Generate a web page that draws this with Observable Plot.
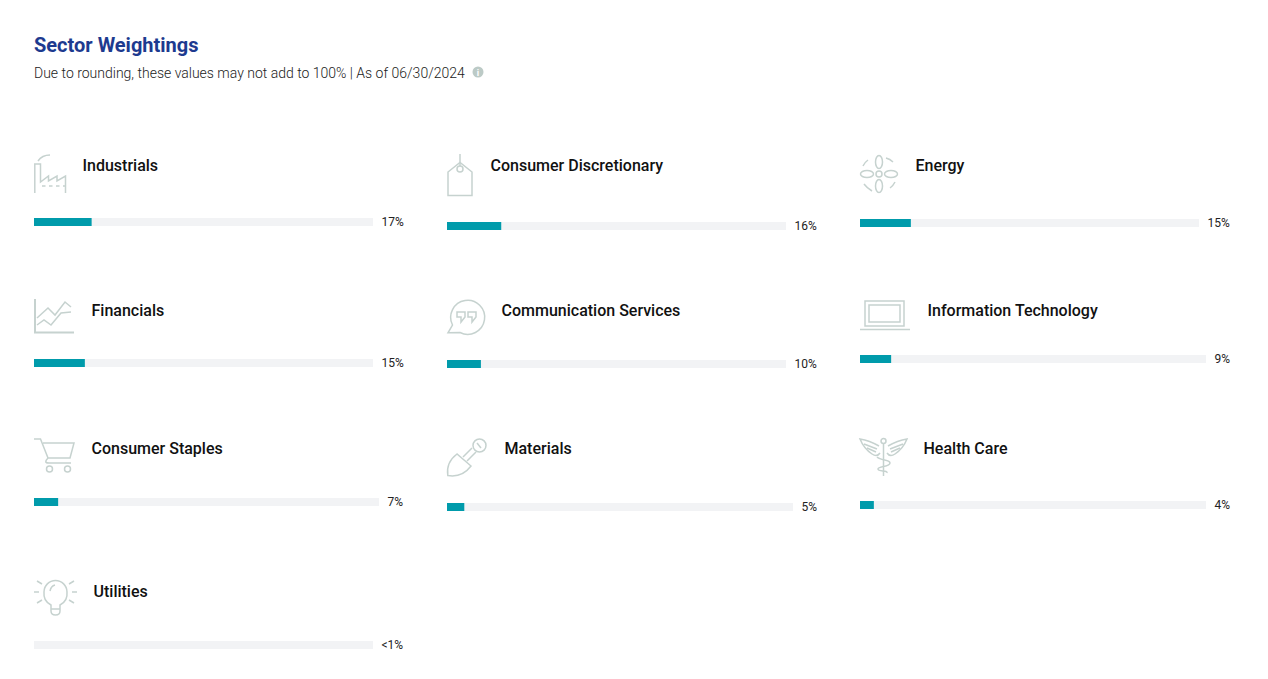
<!DOCTYPE html>
<html><head><meta charset="utf-8">
<script src="https://cdn.jsdelivr.net/npm/d3@7"></script>
<script src="https://cdn.jsdelivr.net/npm/@observablehq/plot@0.6"></script>
<style>
html,body{margin:0;background:#fff;font-family:Roboto,sans-serif}
#page{position:relative;width:1268px;height:679px;overflow:hidden}
h1{position:absolute;left:34px;top:33px;margin:0;font:700 20px/24px Roboto;color:#1d3a8f}
#sub{position:absolute;left:34px;top:64px;font:300 14px/18px Roboto;color:#222;white-space:nowrap}
#info{position:absolute;left:472px;top:66px}
.card{position:absolute}
.card svg{display:block;overflow:visible;max-width:none}
</style></head><body>
<div id="page">
<h1>Sector Weightings</h1>
<div id="sub">Due to rounding, these values may not add to 100% | As of 06/30/2024</div>
<svg id="info" width="12" height="12"><circle cx="6" cy="6" r="5.5" fill="#bccac6"/><text x="6" y="9.5" text-anchor="middle" font-family="Roboto" font-weight="700" font-size="9" fill="#fff">i</text></svg>
</div>
<script>
// Data
const sectors = ["Industrials","Consumer Discretionary","Energy","Financials","Communication Services","Information Technology","Consumer Staples","Materials","Health Care","Utilities"];
const weights = [17,16,15,15,10,9,7,5,4,0];
const labels = ["17%","16%","15%","15%","10%","9%","7%","5%","4%","<1%"];

// Layout (page pixels): one small chart per sector
const cardLeft   = [34,447,860,34,447,860,34,447,860,34];
const cardTop    = [154,154,155,299,299,300,438,438,438,580];
const trackTop   = [218,222,219,359,360,355,498,503,501,641];
const trackWidth = [339,339,339,339,339,346,345,346,346,339];
const nameLeft   = [82,490,915,91,501,927,91,504,923,93];
const nameMiddle = [165,165,165,310,310,310,448,448,448,591];
const trackHeight = 8;
const iconStroke = "#c6d2cf";

const icons = [
 // factory
 `<path d="M.8 39V10H6.5V28L14.5 22V27L23 22V27L31.5 22V39"/><path d="M8 32H31" stroke-dasharray="3.5 3.5"/><path d="M4 7Q8 1 16 1"/>`,
 // tag
 `<path d="M1 41.5V18L13 8.5 25 18V41.5Z"/><circle cx="13" cy="15" r="3"/><path d="M13 0V12"/>`,
 // fan
 `<circle cx="19" cy="19" r="3"/><ellipse cx="19" cy="7" rx="3.5" ry="6.5"/><ellipse cx="19" cy="31" rx="3.5" ry="6.5"/><ellipse cx="7" cy="19" rx="6.5" ry="3.5"/><ellipse cx="31" cy="19" rx="6.5" ry="3.5"/><path d="M3 11Q5 7 8 5M26 3Q30 4 33 7M35 27Q33 31 30 33M4 29Q7 33 12 36"/>`,
 // line chart
 `<path d="M1 0V33.5H40" stroke-width="2"/><path d="M3 19 14 9 21 16 31 3 37 8"/><path d="M3 26 10 21 17 26 27 14 37 13"/>`,
 // speech bubble
 `<path d="M13 33.5A17 17 0 1 0 5.5 26L1 33.8Z"/><path d="M10 13H18V18L14 23V18H10ZM21 13H29V18L25 23V18H21Z"/>`,
 // laptop
 `<rect x="5" y="1" width="39" height="25"/><rect x="9" y="5" width="31" height="17"/><path d="M0 29.5H50"/>`,
 // cart
 `<path d="M0 1H6.5L14 20H36L40 5H9"/><path d="M14 20Q9 25 15 25H37"/><circle cx="15.5" cy="31" r="3"/><circle cx="33.5" cy="31" r="3"/>`,
 // shovel
 `<path d="M.8 37.5C-.5 29 2 22 10 16L24 28C18 36 10 39 .8 37.5Z"/><path d="M16 19 25 10M20 23 29 14"/><circle cx="32.5" cy="7.5" r="6.5"/><path d="M30 5 34 10"/>`,
 // caduceus
 `<path d="M23.5 5V38"/><circle cx="23.5" cy="3" r="2.5"/><path d="M19 8C12 4 6 2 0 1 2 6 6 12 12 16 15 18 18 18 20 15"/><path d="M28 8C35 4 41 2 47 1 45 6 41 12 35 16 32 18 29 18 27 15"/><path d="M4 6 17 11M7 10 16 14M43 6 30 11M40 10 31 14"/><path d="M17 19C21 23 30 21 30 25S18 28 18 31 28 32 27 35"/>`,
 // light bulb
 `<path d="M17 25C11 22 9.500 17 10 12A11.500 11.500 0 0 1 33 12C33.500 17 32 22 26 25V31Q26 35 21.500 35T17 31Z"/><path d="M17 29H26M16 11Q17 6 21 5"/><path d="M0 12H5M38 12H43M3 1 8 4M40 1 35 4M3 23 8 20M40 23 35 20"/>`
];

const page = document.getElementById("page");
sectors.forEach((sector, i) => {
  const row = [{sector, value: weights[i], label: labels[i]}];
  const bottom = trackTop[i] + trackHeight;
  const iconMark = () => {
    const g = d3.create("svg:g")
      .attr("fill","none").attr("stroke",iconStroke).attr("stroke-width",1.5);
    g.html(icons[i]);
    return g.node();
  };
  const chart = Plot.plot({
    width: trackWidth[i] + 50,
    height: bottom - cardTop[i],
    marginLeft: 0, marginRight: 50, marginBottom: 0,
    marginTop: trackTop[i] - cardTop[i],
    x: {domain: [0,100], axis: null},
    marks: [
      Plot.barX(row, {x1: () => 0, x2: () => 100, fill: "#f2f3f5"}),
      Plot.barX(row, {x1: () => 0, x2: "value", fill: "#009bab"}),
      Plot.text(row, {x: () => 100, text: "label", dx: 8, textAnchor: "start",
        fontSize: 12, fill: "#222", fontFamily: "Roboto", fontWeight: 400}),
      Plot.text(row, {text: "sector", frameAnchor: "left", textAnchor: "start",
        dx: nameLeft[i] - cardLeft[i],
        dy: nameMiddle[i] - (trackTop[i] + trackHeight / 2),
        fontSize: 16, fontWeight: 500, fill: "#111", fontFamily: "Roboto"}),
      iconMark
    ]
  });
  const card = document.createElement("div");
  card.className = "card";
  card.style.left = cardLeft[i] + "px";
  card.style.top = cardTop[i] + "px";
  card.appendChild(chart);
  page.appendChild(card);
});
</script>
</body></html>
